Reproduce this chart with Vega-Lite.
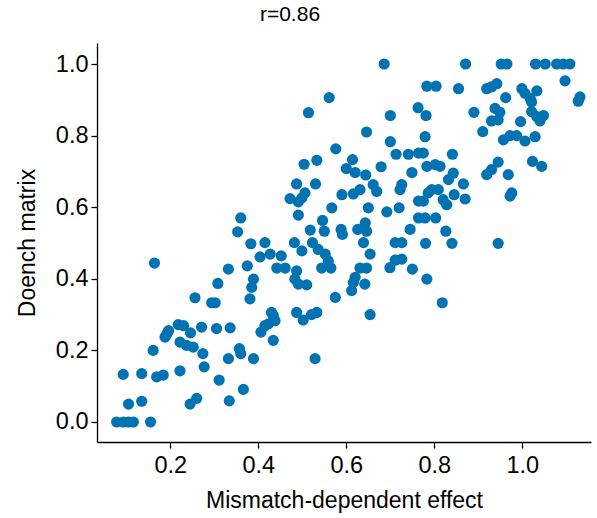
{
  "$schema": "https://vega.github.io/schema/vega-lite/v6.json",
  "autosize": {"type": "none"},
  "width": 494,
  "height": 399,
  "padding": {"left": 97, "top": 43, "right": 6, "bottom": 76},
  "background": "white",
  "title": {
    "text": "r=0.86",
    "font": "Liberation Sans",
    "fontSize": 21,
    "fontWeight": "normal",
    "color": "black",
    "anchor": "middle",
    "dx": -54,
    "offset": 18
  },
  "config": {
    "view": {"stroke": null},
    "axis": {
      "grid": false,
      "domainColor": "black",
      "domainWidth": 1.3,
      "tickColor": "black",
      "tickWidth": 1.3,
      "tickSize": 6,
      "labelFont": "Liberation Sans",
      "labelFontSize": 23.5,
      "labelColor": "black",
      "titleFont": "Liberation Sans",
      "titleFontSize": 23,
      "titleFontWeight": "normal",
      "titleColor": "black"
    }
  },
  "data": {
    "values": [
      {"effect": 0.686, "doench": 1.0}, {"effect": 0.561, "doench": 0.906}, {"effect": 0.514, "doench": 0.864},
      {"effect": 0.700, "doench": 0.856}, {"effect": 0.646, "doench": 0.810}, {"effect": 0.700, "doench": 0.783},
      {"effect": 0.576, "doench": 0.763}, {"effect": 0.713, "doench": 0.748}, {"effect": 0.741, "doench": 0.748},
      {"effect": 0.504, "doench": 0.720}, {"effect": 0.533, "doench": 0.731}, {"effect": 0.614, "doench": 0.733},
      {"effect": 0.600, "doench": 0.708}, {"effect": 0.620, "doench": 0.697}, {"effect": 0.644, "doench": 0.690},
      {"effect": 0.679, "doench": 0.713}, {"effect": 0.749, "doench": 0.697},

      {"effect": 0.871, "doench": 1.0}, {"effect": 0.952, "doench": 1.0}, {"effect": 0.965, "doench": 1.0},
      {"effect": 1.030, "doench": 1.0}, {"effect": 1.052, "doench": 1.0}, {"effect": 1.078, "doench": 1.0},
      {"effect": 1.093, "doench": 1.0}, {"effect": 1.108, "doench": 1.0}, {"effect": 1.097, "doench": 0.953},
      {"effect": 0.783, "doench": 0.938}, {"effect": 0.804, "doench": 0.938}, {"effect": 0.855, "doench": 0.931},
      {"effect": 0.919, "doench": 0.931}, {"effect": 0.930, "doench": 0.936}, {"effect": 0.942, "doench": 0.945},
      {"effect": 0.962, "doench": 0.906}, {"effect": 0.999, "doench": 0.931}, {"effect": 1.006, "doench": 0.918},
      {"effect": 1.018, "doench": 0.904}, {"effect": 1.033, "doench": 0.925}, {"effect": 1.021, "doench": 0.894},
      {"effect": 1.131, "doench": 0.908}, {"effect": 1.127, "doench": 0.896}, {"effect": 0.763, "doench": 0.878},
      {"effect": 0.781, "doench": 0.856}, {"effect": 0.890, "doench": 0.865}, {"effect": 0.938, "doench": 0.876},
      {"effect": 0.949, "doench": 0.865}, {"effect": 0.930, "doench": 0.841}, {"effect": 0.945, "doench": 0.844},
      {"effect": 0.996, "doench": 0.839}, {"effect": 1.021, "doench": 0.867}, {"effect": 1.033, "doench": 0.853},
      {"effect": 1.048, "doench": 0.856}, {"effect": 1.040, "doench": 0.841}, {"effect": 0.910, "doench": 0.811},
      {"effect": 0.779, "doench": 0.797}, {"effect": 0.957, "doench": 0.788}, {"effect": 0.972, "doench": 0.800},
      {"effect": 0.987, "doench": 0.800}, {"effect": 1.006, "doench": 0.785}, {"effect": 1.029, "doench": 0.797},
      {"effect": 0.764, "doench": 0.751}, {"effect": 0.775, "doench": 0.751}, {"effect": 0.841, "doench": 0.748},
      {"effect": 0.783, "doench": 0.714}, {"effect": 0.802, "doench": 0.719}, {"effect": 0.813, "doench": 0.714},
      {"effect": 0.843, "doench": 0.695}, {"effect": 0.945, "doench": 0.726}, {"effect": 0.930, "doench": 0.705},
      {"effect": 0.919, "doench": 0.691}, {"effect": 0.968, "doench": 0.691}, {"effect": 1.023, "doench": 0.728},
      {"effect": 1.044, "doench": 0.714},

      {"effect": 0.832, "doench": 0.677}, {"effect": 0.866, "doench": 0.665}, {"effect": 0.976, "doench": 0.640},
      {"effect": 0.972, "doench": 0.631}, {"effect": 0.794, "doench": 0.649}, {"effect": 0.809, "doench": 0.649},
      {"effect": 0.786, "doench": 0.640}, {"effect": 0.764, "doench": 0.617}, {"effect": 0.775, "doench": 0.617},
      {"effect": 0.820, "doench": 0.621}, {"effect": 0.828, "doench": 0.607}, {"effect": 0.845, "doench": 0.635},
      {"effect": 0.870, "doench": 0.623}, {"effect": 0.764, "doench": 0.570}, {"effect": 0.779, "doench": 0.570},
      {"effect": 0.803, "doench": 0.570}, {"effect": 0.826, "doench": 0.533}, {"effect": 0.780, "doench": 0.499},
      {"effect": 0.840, "doench": 0.499}, {"effect": 0.945, "doench": 0.499}, {"effect": 0.783, "doench": 0.399},
      {"effect": 0.818, "doench": 0.333},

      {"effect": 0.430, "doench": 0.306}, {"effect": 0.434, "doench": 0.297}, {"effect": 0.438, "doench": 0.283},
      {"effect": 0.423, "doench": 0.274}, {"effect": 0.415, "doench": 0.269}, {"effect": 0.406, "doench": 0.251},
      {"effect": 0.434, "doench": 0.228}, {"effect": 0.487, "doench": 0.306}, {"effect": 0.502, "doench": 0.285},
      {"effect": 0.521, "doench": 0.300}, {"effect": 0.533, "doench": 0.306}, {"effect": 0.575, "doench": 0.348},
      {"effect": 0.654, "doench": 0.300}, {"effect": 0.529, "doench": 0.177},

      {"effect": 0.078, "doench": 0.0}, {"effect": 0.093, "doench": 0.0}, {"effect": 0.105, "doench": 0.0},
      {"effect": 0.116, "doench": 0.0}, {"effect": 0.155, "doench": 0.0}, {"effect": 0.093, "doench": 0.133},
      {"effect": 0.135, "doench": 0.135}, {"effect": 0.105, "doench": 0.050}, {"effect": 0.135, "doench": 0.058},
      {"effect": 0.161, "doench": 0.200}, {"effect": 0.169, "doench": 0.126}, {"effect": 0.184, "doench": 0.131},
      {"effect": 0.222, "doench": 0.143}, {"effect": 0.192, "doench": 0.246}, {"effect": 0.196, "doench": 0.255},
      {"effect": 0.188, "doench": 0.237}, {"effect": 0.218, "doench": 0.272}, {"effect": 0.230, "doench": 0.269},
      {"effect": 0.246, "doench": 0.249}, {"effect": 0.271, "doench": 0.265}, {"effect": 0.305, "doench": 0.261},
      {"effect": 0.336, "doench": 0.263}, {"effect": 0.222, "doench": 0.223}, {"effect": 0.237, "doench": 0.214},
      {"effect": 0.252, "doench": 0.209}, {"effect": 0.274, "doench": 0.191}, {"effect": 0.277, "doench": 0.154},
      {"effect": 0.357, "doench": 0.205}, {"effect": 0.360, "doench": 0.191}, {"effect": 0.332, "doench": 0.177},
      {"effect": 0.389, "doench": 0.177}, {"effect": 0.311, "doench": 0.117}, {"effect": 0.366, "doench": 0.091},
      {"effect": 0.245, "doench": 0.050}, {"effect": 0.260, "doench": 0.066}, {"effect": 0.334, "doench": 0.059},

      {"effect": 0.360, "doench": 0.570}, {"effect": 0.353, "doench": 0.531}, {"effect": 0.383, "doench": 0.498},
      {"effect": 0.404, "doench": 0.461}, {"effect": 0.164, "doench": 0.444}, {"effect": 0.332, "doench": 0.427},
      {"effect": 0.375, "doench": 0.436}, {"effect": 0.389, "doench": 0.399}, {"effect": 0.385, "doench": 0.376},
      {"effect": 0.381, "doench": 0.344}, {"effect": 0.308, "doench": 0.387}, {"effect": 0.256, "doench": 0.347},
      {"effect": 0.294, "doench": 0.333}, {"effect": 0.302, "doench": 0.333},

      {"effect": 0.487, "doench": 0.665}, {"effect": 0.530, "doench": 0.665}, {"effect": 0.506, "doench": 0.640},
      {"effect": 0.499, "doench": 0.626}, {"effect": 0.472, "doench": 0.624}, {"effect": 0.491, "doench": 0.615},
      {"effect": 0.590, "doench": 0.635}, {"effect": 0.616, "doench": 0.637}, {"effect": 0.631, "doench": 0.649},
      {"effect": 0.661, "doench": 0.663}, {"effect": 0.669, "doench": 0.644}, {"effect": 0.726, "doench": 0.663},
      {"effect": 0.722, "doench": 0.649}, {"effect": 0.567, "doench": 0.598}, {"effect": 0.650, "doench": 0.598},
      {"effect": 0.692, "doench": 0.587}, {"effect": 0.720, "doench": 0.598}, {"effect": 0.491, "doench": 0.578},
      {"effect": 0.546, "doench": 0.563}, {"effect": 0.518, "doench": 0.536}, {"effect": 0.550, "doench": 0.533},
      {"effect": 0.588, "doench": 0.538}, {"effect": 0.591, "doench": 0.524}, {"effect": 0.626, "doench": 0.538},
      {"effect": 0.643, "doench": 0.556}, {"effect": 0.646, "doench": 0.533}, {"effect": 0.639, "doench": 0.501},
      {"effect": 0.654, "doench": 0.469}, {"effect": 0.745, "doench": 0.538}, {"effect": 0.711, "doench": 0.501},
      {"effect": 0.726, "doench": 0.501}, {"effect": 0.415, "doench": 0.501}, {"effect": 0.427, "doench": 0.469},
      {"effect": 0.452, "doench": 0.464}, {"effect": 0.482, "doench": 0.501}, {"effect": 0.499, "doench": 0.478},
      {"effect": 0.523, "doench": 0.501}, {"effect": 0.536, "doench": 0.482}, {"effect": 0.552, "doench": 0.469},
      {"effect": 0.559, "doench": 0.450}, {"effect": 0.442, "doench": 0.430}, {"effect": 0.461, "doench": 0.430},
      {"effect": 0.487, "doench": 0.422}, {"effect": 0.483, "doench": 0.399}, {"effect": 0.491, "doench": 0.385},
      {"effect": 0.510, "doench": 0.383}, {"effect": 0.544, "doench": 0.430}, {"effect": 0.565, "doench": 0.430},
      {"effect": 0.631, "doench": 0.430}, {"effect": 0.646, "doench": 0.430}, {"effect": 0.620, "doench": 0.404},
      {"effect": 0.616, "doench": 0.390}, {"effect": 0.612, "doench": 0.367}, {"effect": 0.642, "doench": 0.385},
      {"effect": 0.699, "doench": 0.431}, {"effect": 0.711, "doench": 0.452}, {"effect": 0.726, "doench": 0.455},
      {"effect": 0.750, "doench": 0.427}
    ]
  },
  "mark": {"type": "point", "filled": true, "opacity": 1, "size": 125, "color": "#0173B2"},
  "encoding": {
    "x": {
      "field": "effect",
      "type": "quantitative",
      "title": "Mismatch-dependent effect",
      "scale": {"domain": [0.0334, 1.156], "nice": false, "zero": false},
      "axis": {"values": [0.2, 0.4, 0.6, 0.8, 1.0], "format": ".1f", "labelPadding": 5, "titlePadding": 13}
    },
    "y": {
      "field": "doench",
      "type": "quantitative",
      "title": "Doench matrix",
      "scale": {"domain": [-0.0559, 1.0587], "nice": false, "zero": false},
      "axis": {"values": [0.0, 0.2, 0.4, 0.6, 0.8, 1.0], "format": ".1f", "labelPadding": 3, "titlePadding": 16}
    }
  }
}
